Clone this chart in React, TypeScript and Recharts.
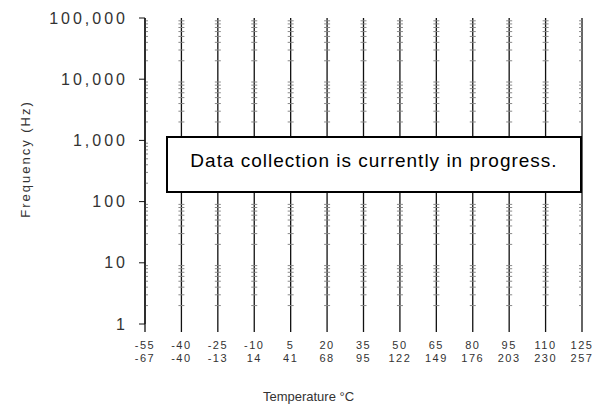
import React from "react";
import {
  LineChart,
  Line,
  XAxis,
  YAxis,
  CartesianGrid,
  ReferenceLine,
} from "recharts";

// Temperature sweep, °C (x ticks) and the matching °F second row.
const temperatures = [-55, -40, -25, -10, 5, 20, 35, 50, 65, 80, 95, 110, 125];
const fahrenheitLabels = ["-67", "-40", "-13", "14", "41", "68", "95", "122", "149", "176", "203", "230", "257"];

// No measurements yet: every point is empty.
const measured: (number | null)[] = [null, null, null, null, null, null, null, null, null, null, null, null, null];

const yTicks = [1, 10, 100, 1000, 10000, 100000];
const yTickLabels = ["1", "10", "100", "1,000", "10,000", "100,000"];
const decades = [1, 10, 100, 1000, 10000];
const minorSteps = [2, 3, 4, 5, 6, 7, 8, 9];

const data = temperatures.map((t, i) => ({ temp: t, value: measured[i] }));
const minorTicks = decades.flatMap((d) => minorSteps.map((m) => d * m));

const TEXT = "#333";
const FONT = "Arial, Liberation Sans, sans-serif";

function TempTick({ x, y, payload }: any) {
  const idx = temperatures.indexOf(payload.value);
  return (
    <g>
      <text x={x} y={y + 15} textAnchor="middle" fontSize={11} letterSpacing={1.5} fill={TEXT} fontFamily={FONT}>
        {payload.value}
      </text>
      <text x={x} y={y + 28} textAnchor="middle" fontSize={11} letterSpacing={1.5} fill={TEXT} fontFamily={FONT}>
        {fahrenheitLabels[idx]}
      </text>
    </g>
  );
}

function YTitle({ viewBox }: any) {
  const x = viewBox.x + 20;
  const y = viewBox.y + viewBox.height / 2 - 12;
  return (
    <text
      x={x}
      y={y}
      transform={`rotate(-90, ${x}, ${y})`}
      textAnchor="middle"
      dominantBaseline="central"
      fontSize={13}
      letterSpacing={2}
      fill={TEXT}
      fontFamily={FONT}
    >
      Frequency (Hz)
    </text>
  );
}

export default function App() {
  return (
    <div style={{ position: "absolute", left: 0, top: 0, width: 597, height: 413, background: "#fff" }}>
      <LineChart width={597} height={413} data={data} margin={{ top: 18, right: 15, bottom: 7, left: 5 }}>
        <CartesianGrid horizontal={false} vertical stroke="#111" strokeWidth={1.3} />
        {minorTicks.map((v) => (
          <ReferenceLine
            key={v}
            y={v}
            stroke="#888"
            strokeWidth={1}
            strokeDasharray="6 30.42"
            strokeDashoffset={3}
          />
        ))}
        <XAxis
          dataKey="temp"
          type="number"
          domain={[-55, 125]}
          ticks={temperatures}
          interval={0}
          height={82}
          axisLine={false}
          tickLine={{ stroke: "#111", strokeWidth: 1.3 }}
          tickSize={8}
          tick={<TempTick />}
          label={{
            value: "Temperature °C",
            position: "insideBottom",
            offset: 5,
            dx: -55,
            fontSize: 13,
            fill: TEXT,
            fontFamily: FONT,
          }}
        />
        <YAxis
          scale="log"
          domain={[1, 100000]}
          ticks={yTicks}
          allowDataOverflow
          width={140}
          axisLine={{ stroke: "#111", strokeWidth: 1.3 }}
          tickLine={{ stroke: "#111" }}
          tickSize={6}
          tickMargin={11}
          tickFormatter={(v: number) => yTickLabels[yTicks.indexOf(v)]}
          tick={{ fontSize: 16, letterSpacing: 3, fill: TEXT, fontFamily: FONT }}
          label={{ content: <YTitle /> }}
        />
        <Line dataKey="value" stroke="#000" dot={false} isAnimationActive={false} connectNulls={false} />
      </LineChart>
      <div
        style={{
          position: "absolute",
          left: 166,
          top: 136,
          width: 416,
          height: 57,
          boxSizing: "border-box",
          border: "2px solid #000",
          background: "#fff",
          display: "flex",
          alignItems: "center",
          justifyContent: "center",
          paddingBottom: 8,
          fontFamily: FONT,
          fontSize: 19,
          letterSpacing: 1,
          color: "#000",
        }}
      >
        Data collection is currently in progress.
      </div>
    </div>
  );
}
